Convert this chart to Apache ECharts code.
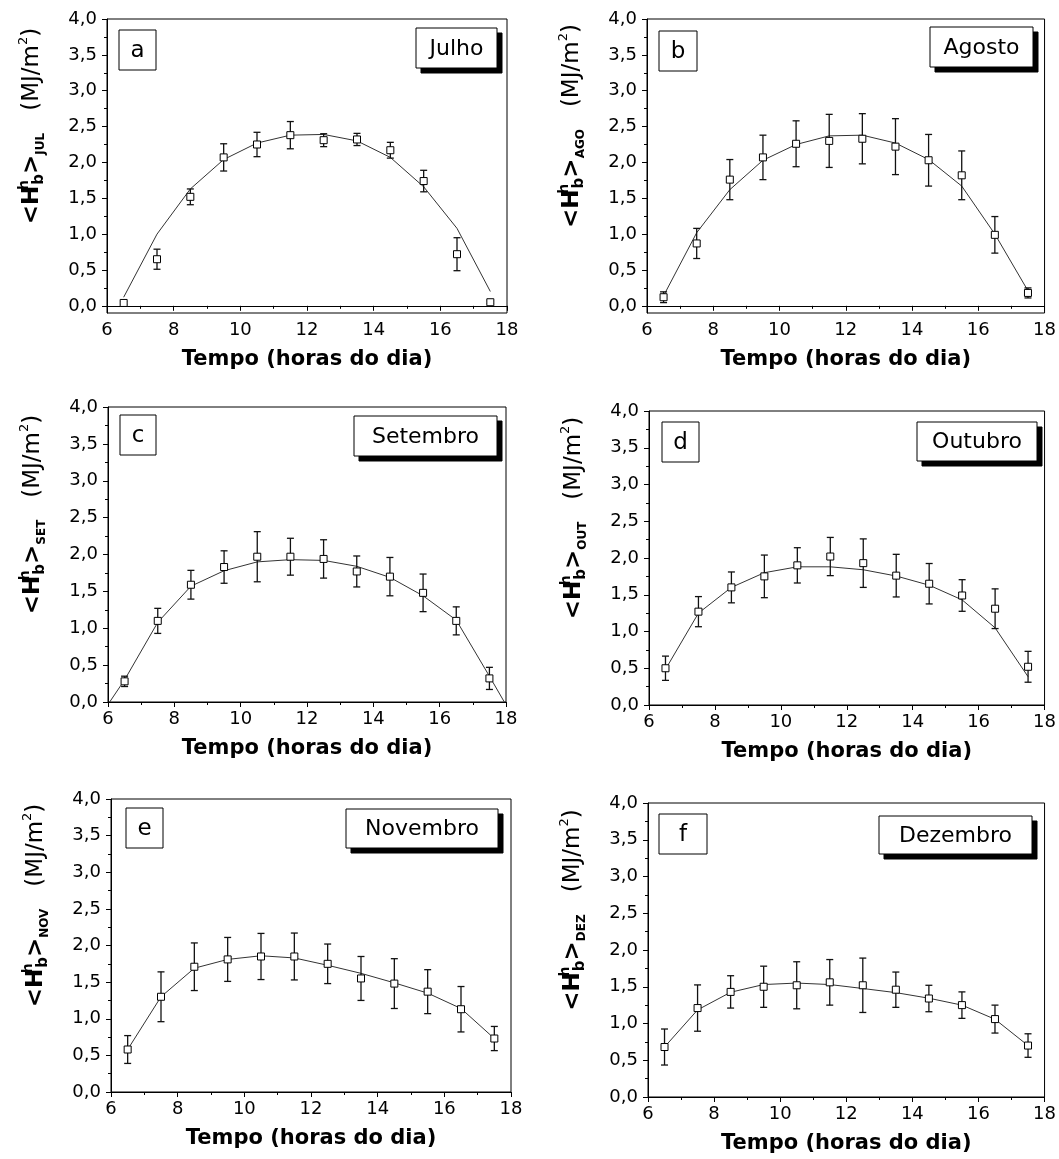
<!DOCTYPE html>
<html><head><meta charset="utf-8">
<script src="https://cdn.jsdelivr.net/npm/echarts@6/dist/echarts.min.js"></script>
<style>html,body{margin:0;padding:0;background:#fff}#c{width:1059px;height:1159px}</style>
</head><body><div id="c"></div>
<script>
// ---------- DATA ----------
const hours = [6.5,7.5,8.5,9.5,10.5,11.5,12.5,13.5,14.5,15.5,16.5,17.5];
const xTicks = [6,8,10,12,14,16,18];
const yTicks = [0,0.5,1,1.5,2,2.5,3,3.5,4];
const yMinorTicks = [0.25,0.75,1.25,1.75,2.25,2.75,3.25,3.75];
const months = ['Julho','Agosto','Setembro','Outubro','Novembro','Dezembro'];
const letters = ['a','b','c','d','e','f'];
const subs = ['JUL','AGO','SET','OUT','NOV','DEZ'];

const julMean = [0.04,0.65,1.52,2.07,2.25,2.38,2.31,2.32,2.17,1.74,0.72,0.05];
const julErr  = [0.02,0.14,0.11,0.19,0.17,0.19,0.09,0.085,0.11,0.15,0.23,0.02];
const julFit  = [0.12,1.00,1.63,2.04,2.27,2.38,2.39,2.30,2.07,1.66,1.08,0.20];

const agoMean = [0.12,0.87,1.76,2.07,2.26,2.30,2.33,2.22,2.03,1.82,0.99,0.18];
const agoErr  = [0.075,0.21,0.28,0.31,0.32,0.37,0.35,0.39,0.36,0.34,0.255,0.07];
const agoFit  = [0.14,1.02,1.62,2.03,2.25,2.37,2.38,2.27,2.04,1.67,1.00,0.21];

const setMean = [0.28,1.10,1.59,1.83,1.97,1.97,1.94,1.77,1.70,1.48,1.10,0.32];
const setErr  = [0.07,0.17,0.195,0.22,0.34,0.25,0.26,0.21,0.26,0.255,0.19,0.15];
const setFitX = [6.05,6.5,7.5,8.5,9.5,10.5,11.5,12.5,13.5,14.5,15.5,16.5,17.5,17.95];
const setFit  = [0.0,0.30,1.08,1.57,1.78,1.90,1.93,1.92,1.84,1.69,1.44,1.11,0.35,0.0];

const outMean = [0.50,1.27,1.60,1.75,1.90,2.02,1.93,1.76,1.65,1.49,1.31,0.52];
const outErr  = [0.165,0.205,0.21,0.29,0.24,0.26,0.33,0.29,0.275,0.215,0.27,0.21];
const outFit  = [0.485,1.25,1.60,1.80,1.88,1.88,1.84,1.755,1.63,1.43,1.05,0.385];

const novMean = [0.58,1.30,1.71,1.81,1.85,1.85,1.75,1.55,1.48,1.37,1.13,0.73];
const novErr  = [0.19,0.34,0.325,0.30,0.315,0.32,0.27,0.30,0.34,0.30,0.31,0.165];
const novFit  = [0.58,1.30,1.69,1.81,1.86,1.83,1.73,1.62,1.49,1.35,1.14,0.73];

const dezMean = [0.68,1.21,1.43,1.50,1.52,1.56,1.52,1.46,1.34,1.25,1.06,0.70];
const dezErr  = [0.245,0.315,0.22,0.28,0.32,0.31,0.37,0.24,0.18,0.18,0.19,0.16];
const dezFit  = [0.68,1.185,1.425,1.53,1.55,1.53,1.476,1.42,1.344,1.25,1.058,0.70];

// ---------- LAYOUT ----------
const panels = [
  {grid:{left:107,top:19,width:400,height:294}, yMin:-0.1, mean:julMean, err:julErr, fitX:hours, fit:julFit,
   lbox:[119,30,37,40], mbox:[416,28,81,40]},
  {grid:{left:647,top:19,width:400,height:294}, yMin:-0.1, mean:agoMean, err:agoErr, fitX:hours, fit:agoFit,
   lbox:[659,31,38,40], mbox:[930,27,103,40]},
  {grid:{left:108,top:407,width:398,height:295}, yMin:0, mean:setMean, err:setErr, fitX:setFitX, fit:setFit,
   lbox:[120,415,36,40], mbox:[354,416,143,40]},
  {grid:{left:649,top:411,width:400,height:294}, yMin:0, mean:outMean, err:outErr, fitX:hours, fit:outFit,
   lbox:[662,422,37,40], mbox:[917,422,120,39]},
  {grid:{left:111,top:799,width:400,height:293}, yMin:0, mean:novMean, err:novErr, fitX:hours, fit:novFit,
   lbox:[126,808,37,40], mbox:[346,809,152,39]},
  {grid:{left:648,top:803,width:398,height:294}, yMin:0, mean:dezMean, err:dezErr, fitX:hours, fit:dezFit,
   lbox:[659,814,48,40], mbox:[879,816,153,38]}
];

const FONT = 'DejaVu Sans';
const fmt = v => v.toFixed(1).replace('.', ',');

const grids = [], xAxes = [], yAxes = [], series = [], graphics = [];

function errRender(params, api) {
  const x = api.value(0), y = api.value(1), e = api.value(2);
  const top = api.coord([x, y + e]), bot = api.coord([x, y - e]);
  const hw = 3.5;
  const style = {stroke: '#111', lineWidth: 1.3, fill: null};
  return {type: 'group', children: [
    {type: 'line', shape: {x1: top[0], y1: top[1], x2: bot[0], y2: bot[1]}, style},
    {type: 'line', shape: {x1: top[0] - hw, y1: top[1], x2: top[0] + hw, y2: top[1]}, style},
    {type: 'line', shape: {x1: bot[0] - hw, y1: bot[1], x2: bot[0] + hw, y2: bot[1]}, style}
  ]};
}

panels.forEach((p, i) => {
  grids.push(Object.assign({show: true, borderColor: '#000', borderWidth: 1, backgroundColor: 'transparent'}, p.grid));
  xAxes.push({
    type: 'value', gridIndex: i, min: 6, max: 18, interval: 2,
    axisLine: {show: true, lineStyle: {color: '#000', width: 1}},
    axisTick: {show: true, length: 5, lineStyle: {color: '#000'}},
    minorTick: {show: true, splitNumber: 2, length: 3, lineStyle: {color: '#000'}},
    splitLine: {show: false},
    axisLabel: {customValues: xTicks, fontFamily: FONT, fontSize: 18, color: '#000', margin: 8},
    name: 'Tempo (horas do dia)', nameLocation: 'middle', nameGap: 36,
    nameTextStyle: {fontFamily: FONT, fontWeight: 'bold', fontSize: 21, color: '#000'}
  });
  yAxes.push({
    type: 'value', gridIndex: i, min: p.yMin, max: 4, position: 'left',
    axisLine: {show: true, lineStyle: {color: '#000', width: 1}},
    axisTick: {show: true, length: 5, customValues: yTicks, lineStyle: {color: '#000'}},
    splitLine: {show: false},
    axisLabel: {customValues: yTicks, formatter: fmt, fontFamily: FONT, fontSize: 18, color: '#000', margin: 10},
    name: '{b|<H}{sp|h}{sb|b}{b|>}{sj|' + subs[i] + '}{r|   (MJ/m}{s2|2}{r|)}',
    nameLocation: 'middle', nameRotate: 90, nameGap: 60,
    nameTextStyle: {
      padding: [0, 0, 0, 80],
      rich: {
        b:  {fontFamily: FONT, fontWeight: 'bold', fontSize: 23, lineHeight: 30, color: '#000'},
        sp: {fontFamily: FONT, fontWeight: 'bold', fontSize: 14, lineHeight: 14, verticalAlign: 'top', align: 'left', width: 1, color: '#000'},
        sb: {fontFamily: FONT, fontWeight: 'bold', fontSize: 15, lineHeight: 15, verticalAlign: 'bottom', color: '#000'},
        sj: {fontFamily: FONT, fontWeight: 'bold', fontSize: 12, lineHeight: 12, verticalAlign: 'bottom', color: '#000'},
        r:  {fontFamily: FONT, fontSize: 23, lineHeight: 30, color: '#000'},
        s2: {fontFamily: FONT, fontSize: 13, lineHeight: 13, verticalAlign: 'top', color: '#000'}
      }
    }
  });
  yAxes.push({
    type: 'value', gridIndex: i, min: p.yMin, max: 4, position: 'left',
    axisLine: {show: false}, splitLine: {show: false}, axisLabel: {show: false},
    axisTick: {show: true, length: 3, customValues: yMinorTicks, lineStyle: {color: '#000'}}
  });
  const yi = i * 2;
  series.push({
    type: 'line', xAxisIndex: i, yAxisIndex: yi, showSymbol: false, symbol: 'none',
    lineStyle: {color: '#333', width: 1}, data: p.fitX.map((x, k) => [x, p.fit[k]]), z: 2, silent: true
  });
  series.push({
    type: 'custom', xAxisIndex: i, yAxisIndex: yi, renderItem: errRender,
    encode: {x: 0, y: 1}, data: hours.map((x, k) => [x, p.mean[k], p.err[k]]), z: 3, silent: true
  });
  series.push({
    type: 'scatter', xAxisIndex: i, yAxisIndex: yi, symbol: 'rect', symbolSize: 7,
    itemStyle: {color: '#fff', borderColor: '#000', borderWidth: 1, opacity: 1},
    data: hours.map((x, k) => [x, p.mean[k]]), z: 4, silent: true
  });
  const [lx, ly, lw, lh] = p.lbox;
  graphics.push({type: 'rect', shape: {x: lx, y: ly, width: lw, height: lh},
    style: {fill: '#fff', stroke: '#000', lineWidth: 1}, z: 10});
  graphics.push({type: 'text', x: lx + lw / 2, y: ly + lh / 2 + 1,
    style: {text: letters[i], font: '23px "DejaVu Sans"', fill: '#000', align: 'center', verticalAlign: 'middle'}, z: 11});
  const [mx, my, mw, mh] = p.mbox;
  graphics.push({type: 'rect', shape: {x: mx + 5, y: my + 5, width: mw, height: mh},
    style: {fill: '#000', stroke: '#000', lineWidth: 1}, z: 10});
  graphics.push({type: 'rect', shape: {x: mx, y: my, width: mw, height: mh},
    style: {fill: '#fff', stroke: '#000', lineWidth: 1}, z: 11});
  graphics.push({type: 'text', x: mx + mw / 2, y: my + mh / 2 + 1,
    style: {text: months[i], font: '22px "DejaVu Sans"', fill: '#000', align: 'center', verticalAlign: 'middle'}, z: 12});
});

const chart = echarts.init(document.getElementById('c'), null, {renderer: 'canvas'});
chart.setOption({
  animation: false,
  backgroundColor: '#fff',
  grid: grids, xAxis: xAxes, yAxis: yAxes, series: series,
  graphic: graphics
});
</script></body></html>
